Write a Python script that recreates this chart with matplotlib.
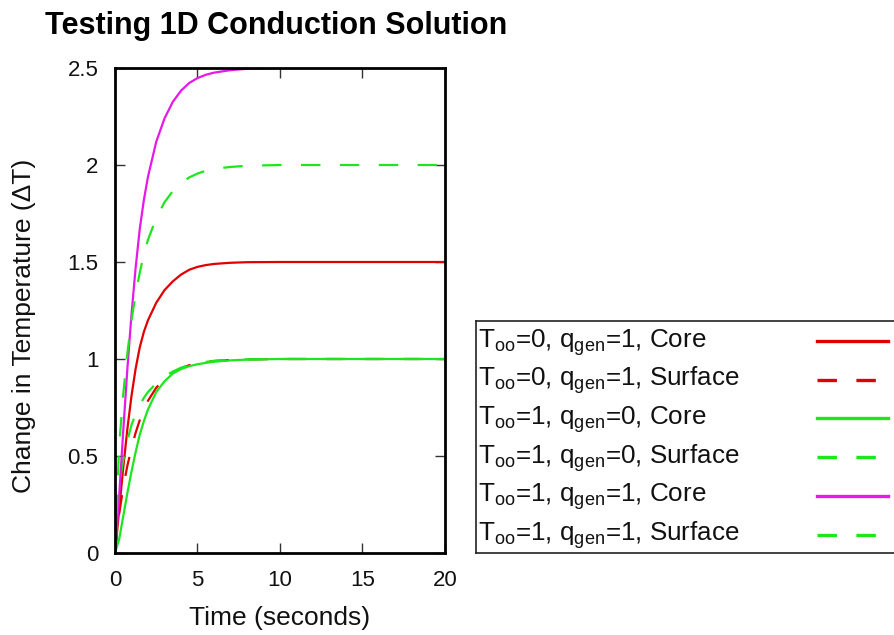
import matplotlib
matplotlib.use("Agg")
import matplotlib.pyplot as plt

plt.rcParams['font.family'] = ['Liberation Sans', 'DejaVu Sans']
plt.rcParams['mathtext.fontset'] = 'custom'
plt.rcParams['mathtext.rm'] = 'Liberation Sans'
plt.rcParams['lines.scale_dashes'] = False

# ---- data ----
time_s = [0, 0.25, 0.5, 0.75, 1, 1.25, 1.5, 1.75, 2, 2.5, 3, 3.5, 4, 4.5, 5, 5.5, 6, 7, 8, 10, 12, 15, 20]

t0_q1_core = [0, 0.22, 0.44, 0.64, 0.81, 0.95, 1.06, 1.14, 1.20, 1.29, 1.355, 1.40, 1.435, 1.46, 1.475,
              1.484, 1.49, 1.496, 1.499, 1.5, 1.5, 1.5, 1.5]
t0_q1_surf = [0, 0.20, 0.34, 0.45, 0.54, 0.62, 0.685, 0.74, 0.785, 0.852, 0.898, 0.93, 0.952, 0.968, 0.978,
              0.985, 0.99, 0.995, 0.998, 1.0, 1.0, 1.0, 1.0]
t1_q0_core = [0, 0.07, 0.19, 0.31, 0.42, 0.52, 0.61, 0.68, 0.74, 0.83, 0.885, 0.925, 0.948, 0.963, 0.973,
              0.98, 0.986, 0.993, 0.997, 1.0, 1.0, 1.0, 1.0]
t1_q0_surf = [0, 0.35, 0.48, 0.58, 0.66, 0.715, 0.76, 0.80, 0.83, 0.875, 0.91, 0.935, 0.955, 0.968, 0.978,
              0.985, 0.99, 0.995, 0.998, 1.0, 1.0, 1.0, 1.0]
t1_q1_core = [0, 0.29, 0.63, 0.95, 1.23, 1.47, 1.67, 1.82, 1.94, 2.12, 2.24, 2.325, 2.383, 2.423, 2.448,
              2.465, 2.476, 2.489, 2.496, 2.5, 2.5, 2.5, 2.5]
t1_q1_surf = [0, 0.55, 0.82, 1.03, 1.20, 1.335, 1.445, 1.54, 1.615, 1.727, 1.808, 1.865, 1.907, 1.936, 1.956,
              1.97, 1.98, 1.99, 1.996, 2.0, 2.0, 2.0, 2.0]

labels = [
    r"T$_\mathregular{oo}$=0, q$_\mathregular{gen}$=1, Core",
    r"T$_\mathregular{oo}$=0, q$_\mathregular{gen}$=1, Surface",
    r"T$_\mathregular{oo}$=1, q$_\mathregular{gen}$=0, Core",
    r"T$_\mathregular{oo}$=1, q$_\mathregular{gen}$=0, Surface",
    r"T$_\mathregular{oo}$=1, q$_\mathregular{gen}$=1, Core",
    r"T$_\mathregular{oo}$=1, q$_\mathregular{gen}$=1, Surface",
]
series = [t0_q1_core, t0_q1_surf, t1_q0_core, t1_q0_surf, t1_q1_core, t1_q1_surf]

xticks = [0, 5, 10, 15, 20]
yticks = [0, 0.5, 1, 1.5, 2, 2.5]
ytick_labels = ["0", "0.5", "1", "1.5", "2", "2.5"]

# ---- styles ----
RED = '#e00000'
GREEN = '#1ee61e'
MAG = '#e619e6'
colors = [RED, RED, GREEN, GREEN, MAG, GREEN]
dashed = [False, True, False, True, False, True]
DASH = (14, 14)

W, H = 895, 635
fig = plt.figure(figsize=(W / 100, H / 100), dpi=100)

def fx(px):
    return px / W

def fy(py):
    return 1 - py / H

ax = fig.add_axes([fx(115), fy(553), fx(445) - fx(115), fy(68) - fy(553)])
for ys, c, d in zip(series, colors, dashed):
    if d:
        ax.plot(time_s, ys, color=c, lw=1.6, dashes=DASH)
    else:
        ax.plot(time_s, ys, color=c, lw=1.6)

ax.set_xlim(0, 20)
ax.set_ylim(0, 2.5)
ax.set_xticks(xticks)
ax.set_xticklabels([str(v) for v in xticks])
ax.set_yticks(yticks)
ax.set_yticklabels(ytick_labels)
ax.tick_params(direction='in', length=7, width=1, color='#333333', top=True, right=True,
               labelsize=16, labelcolor='#111111')
ax.tick_params(axis='y', pad=12)
ax.tick_params(axis='x', pad=12)
for s in ax.spines.values():
    s.set_linewidth(2.0)
    s.set_color('black')

ax.set_xlabel("Time (seconds)", fontsize=19, color='#111111')
ax.xaxis.set_label_coords(0.5, -0.11)
ax.set_ylabel("Change in Temperature (ΔT)", fontsize=19, color='#111111')
ax.yaxis.set_label_coords(-0.24, 0.468)

fig.text(fx(45), fy(34), "Testing 1D Conduction Solution", fontsize=22, fontweight='bold',
         ha='left', va='baseline', color='black')

# ---- legend box (extends past the right edge as in the reference) ----
lax = fig.add_axes([fx(476), fy(553), fx(920) - fx(476), fy(321) - fy(553)])
lax.set_xlim(476, 920)
lax.set_ylim(553, 321)
lax.set_xticks([])
lax.set_yticks([])
for s in lax.spines.values():
    s.set_linewidth(1.2)
    s.set_color('#222222')
lax.patch.set_alpha(0)
for i, (lab, c, d) in enumerate(zip(labels, colors, dashed)):
    base = 347 + 38.7 * i
    lax.text(478, base, lab, fontsize=18.7, ha='left', va='baseline', color='#111111')
    ly = 341 + 38.7 * i
    if d:
        lax.plot([817, 888], [ly, ly], color=c, lw=2.4, dashes=DASH)
    else:
        lax.plot([817, 888], [ly, ly], color=c, lw=2.4)

fig.savefig("out.png", dpi=100, facecolor='white')
